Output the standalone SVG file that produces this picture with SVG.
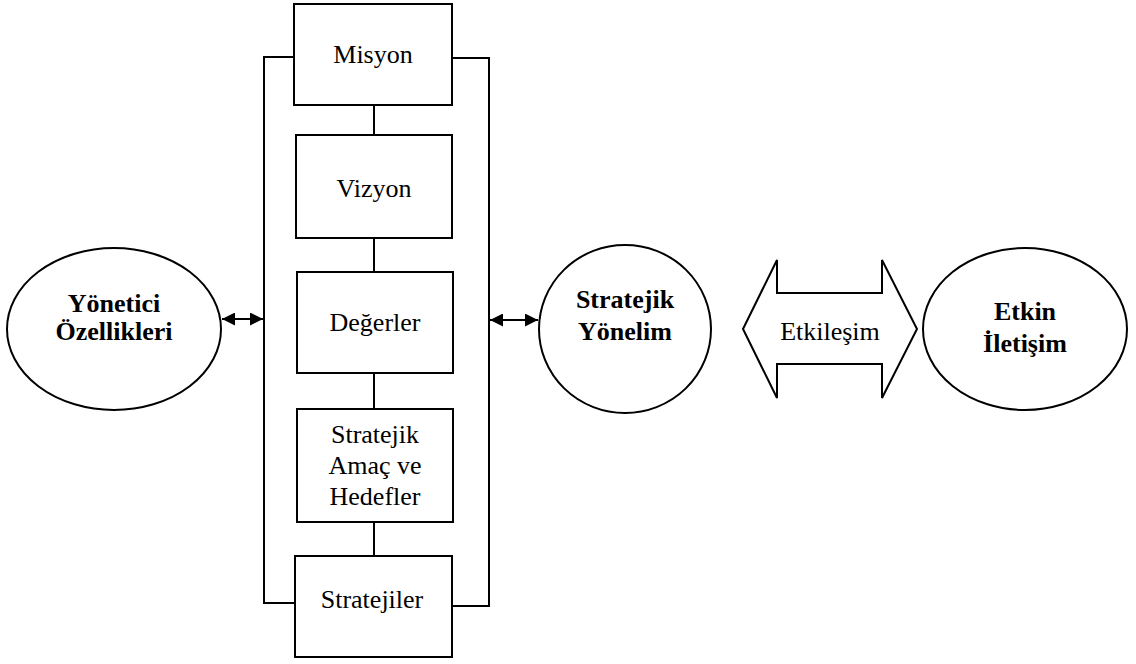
<svg xmlns="http://www.w3.org/2000/svg" width="1136" height="664" viewBox="0 0 1136 664">
  <style>
    .box { fill: #fff; stroke: #000; stroke-width: 2; }
    .line { fill: none; stroke: #000; stroke-width: 2; }
    text { font-family: 'Liberation Serif', 'DejaVu Serif', serif; font-size: 26px; fill: #000; text-anchor: middle; }
    .b { font-weight: bold; }
  </style>
  <defs>
    <marker id="ah" viewBox="0 0 12 12" refX="12" refY="6" markerWidth="13" markerHeight="13" orient="auto-start-reverse" markerUnits="userSpaceOnUse">
      <path d="M0,0 L12,6 L0,12 Z" fill="#000"/>
    </marker>
  </defs>
  <rect width="1136" height="664" fill="#fff"/>

  <!-- connectors -->
  <g id="connectors">
    <!-- bracket round the stacked boxes -->
    <polyline class="line" points="294,57 264,57 264,603 295,603"/>
    <polyline class="line" points="452,58 489,58 489,606 452,606"/>
    <!-- links between stacked boxes -->
    <line class="line" x1="374" y1="105" x2="374" y2="135"/>
    <line class="line" x1="374" y1="238" x2="374" y2="272"/>
    <line class="line" x1="374" y1="373" x2="374" y2="409"/>
    <line class="line" x1="374" y1="522" x2="374" y2="556"/>
    <!-- two-way arrows -->
    <line class="line" x1="222" y1="319" x2="263" y2="319" marker-start="url(#ah)" marker-end="url(#ah)"/>
    <line class="line" x1="490" y1="320" x2="538" y2="320" marker-start="url(#ah)" marker-end="url(#ah)"/>
  </g>

  <g id="yonetici">
    <ellipse class="box" cx="114" cy="329" rx="107" ry="81"/>
    <text class="b" x="114" y="312">Yönetici</text>
    <text class="b" x="114" y="340">Özellikleri</text>
  </g>

  <g id="misyon">
    <rect class="box" x="294" y="4" width="158" height="101"/>
    <text x="373" y="63">Misyon</text>
  </g>
  <g id="vizyon">
    <rect class="box" x="296" y="135" width="156" height="103"/>
    <text x="374" y="197">Vizyon</text>
  </g>
  <g id="degerler">
    <rect class="box" x="297" y="272" width="156" height="101"/>
    <text x="375" y="331">Değerler</text>
  </g>
  <g id="amac">
    <rect class="box" x="297" y="409" width="156" height="113"/>
    <text x="375" y="443">Stratejik</text>
    <text x="375" y="474">Amaç ve</text>
    <text x="375" y="505">Hedefler</text>
  </g>
  <g id="stratejiler">
    <rect class="box" x="295" y="556" width="157" height="101"/>
    <text x="372" y="608">Stratejiler</text>
  </g>

  <g id="yonelim">
    <ellipse class="box" cx="625" cy="329" rx="86" ry="84"/>
    <text class="b" x="625" y="308">Stratejik</text>
    <text class="b" x="625" y="340">Yönelim</text>
  </g>

  <g id="etkilesim">
    <polygon class="box" points="743,329 777,260 777,293 882,293 882,260 917,329 882,398 882,364 777,364 777,398"/>
    <text x="830" y="340">Etkileşim</text>
  </g>

  <g id="iletisim">
    <ellipse class="box" cx="1025" cy="329" rx="102" ry="81"/>
    <text class="b" x="1025" y="320">Etkin</text>
    <text class="b" x="1025" y="352">İletişim</text>
  </g>
</svg>
